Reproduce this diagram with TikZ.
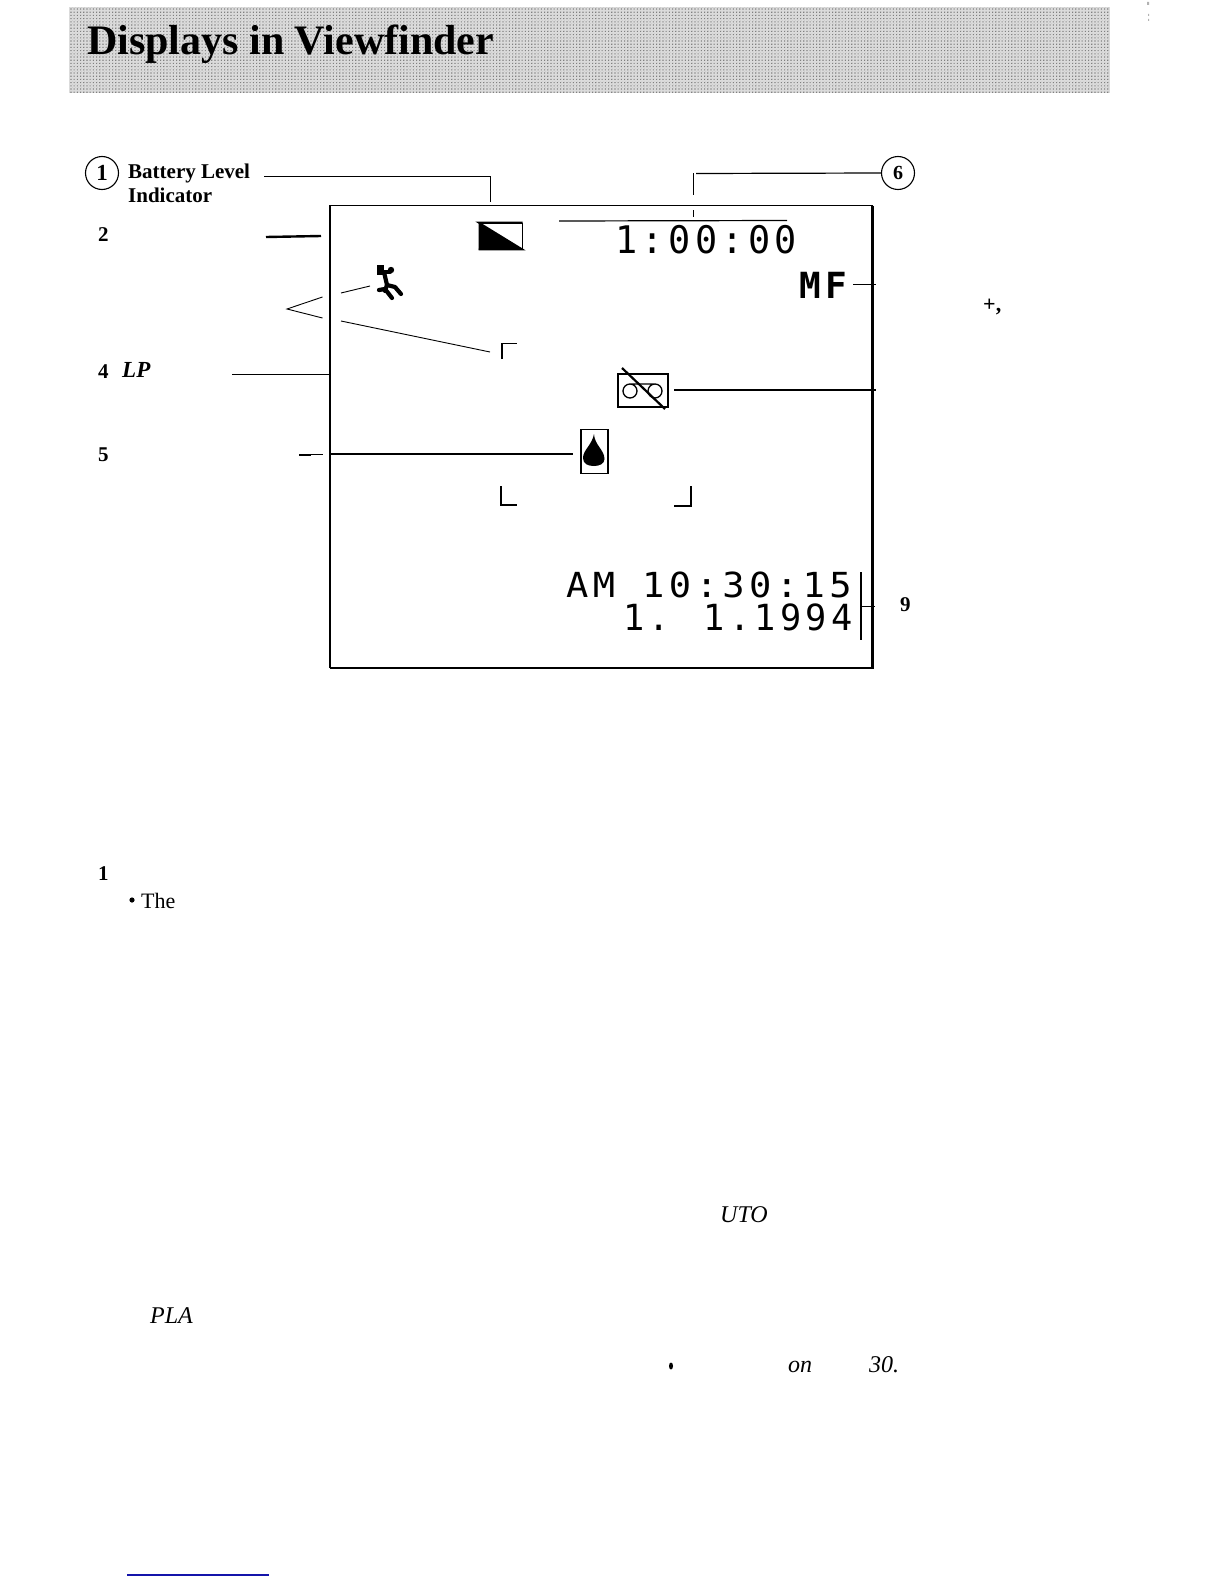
\documentclass[tikz,border=0pt]{standalone}
\usepackage{fontspec}
\usetikzlibrary{patterns}
\setmainfont{Liberation Serif}
\newfontfamily\lcd[LetterSpace=12]{DejaVu Sans Mono}
\definecolor{bannergray}{gray}{0.86}
\definecolor{linkblue}{RGB}{20,20,170}
\pgfdeclarepatternformonly{stipple}{\pgfqpoint{0pt}{0pt}}{\pgfqpoint{1.6pt}{1.6pt}}{\pgfqpoint{3.2pt}{3.2pt}}{%
  \pgfpathrectangle{\pgfqpoint{0pt}{0pt}}{\pgfqpoint{1.1pt}{1.1pt}}%
  \pgfpathrectangle{\pgfqpoint{1.6pt}{1.6pt}}{\pgfqpoint{1.1pt}{1.1pt}}%
  \pgfusepath{fill}}
\tikzset{
  x=1pt,y=-1pt,
  leader/.style={draw=black,line width=1.2pt},
  thinleader/.style={draw=black,line width=0.9pt},
  callout/.style={draw=black,line width=1.1pt,circle,minimum size=33pt,inner sep=0pt,font=\bfseries\fontsize{20}{20}\selectfont},
  lab/.style={inner sep=0pt,anchor=base west},
  blab/.style={lab,font=\bfseries\fontsize{21}{21}\selectfont},
  rlab/.style={lab,font=\fontsize{22}{22}\selectfont},
  ilab/.style={lab,font=\itshape\fontsize{24}{24}\selectfont},
  disp/.style={inner sep=0pt,anchor=base west},
  bracket/.style={draw=black,line width=1.3pt},
}
\begin{document}
\begin{tikzpicture}
\useasboundingbox (0,0) rectangle (1224,1584);
% banner
\fill[bannergray] (69,7) rectangle (1110,93);
\fill[pattern=stipple,pattern color=black!50] (69,7) rectangle (1110,93);
\node[lab,font=\bfseries\fontsize{42}{42}\selectfont] (title) at (87,55) {Displays in Viewfinder};
% specks
\fill[gray!60] (1147,2) rectangle (1149,5) (1148,14) rectangle (1149,16) (1148,19) rectangle (1149,21);
% frame
\coordinate (fTL) at (330,205.5);
\coordinate (fTR) at (872.5,205.5);
\coordinate (fBL) at (330,668);
\coordinate (fBR) at (872.5,668);
\draw[line width=1.1pt] (fBL) -- (fTL) -- (fTR);
\draw[line width=2.1pt] (fTR) -- (fBR) -- (fBL);
% callouts
\node[callout,font=\bfseries\fontsize{23}{23}\selectfont] (c1) at (102,173) {1};
\node[blab] (bat) at (128,178) {Battery Level};
\node[blab] (ind) at (128,202) {Indicator};
\node[callout] (c6) at (898,173) {6};
\node[blab] (n2) at (98,241) {2};
\node[blab] (n4) at (98,378) {4};
\node[ilab,font=\itshape\bfseries\fontsize{23}{23}\selectfont] (lp) at (122,377) {LP};
\node[blab] (n5) at (98,461) {5};
\node[blab] (n1) at (98,880) {1};
\node[rlab] (the) at (141,908) {The};
\node[rlab,font=\bfseries\fontsize{22}{22}\selectfont] (plus) at (983,311) {+,};
\node[lab,font=\bfseries\fontsize{21}{21}\selectfont] (n9) at (900,611) {9};
\node[ilab] (uto) at (720,1222) {UTO};
\node[ilab] (pla) at (150,1323) {PLA};
\node[ilab] (on) at (788,1372) {on};
\node[ilab] (thirty) at (869,1372) {30.};
\fill (132,900) circle (2.6);
\fill (671,1366) ellipse (2 and 3.5);
% display texts
\node[disp,font=\lcd\fontsize{38}{38}\selectfont] (tc) at (615,253) {\scalebox{0.97}[1]{1:00:00}};
\node[disp,font=\lcd\bfseries\fontsize{36}{36}\selectfont] (mf) at (799,298) {MF};
\node[disp,font=\lcd\fontsize{34.5}{34.5}\selectfont] (clock) at (566,597) {\scalebox{1.074}[1]{AM 10:30:15}};
\node[disp,font=\lcd\fontsize{36}{36}\selectfont] (date) at (623,630) {\scalebox{0.98}[1]{1. 1.1994}};
% battery icon
\node[draw=black,line width=1pt,minimum width=43pt,minimum height=26pt,inner sep=0pt,anchor=north west] (batt) at (478.5,222.5) {};
\fill (batt.north west) -- (batt.south east) -- (batt.south west) -- cycle;
\draw[line width=1.8pt] (batt.south west) -- (batt.south east) -- (batt.north west) -- (batt.north east);
% runner
\node[inner sep=0pt,minimum width=24pt,minimum height=34pt] (runner) at (389,282) {};
\begin{scope}[line width=4.2pt,line cap=round,line join=round]
\fill (377,265) rectangle (384,275);
\fill (391,270) circle (3.2);
\draw (384,272) -- (390,272);
\draw (384,272) -- (387,285) -- (395,287) -- (401,294);
\draw (379,290) -- (385,289) -- (392,298);
\draw (387,285) -- (385,291);
\end{scope}
% cassette
\node[draw=black,line width=1.5pt,minimum width=50pt,minimum height=33pt,inner sep=0pt,anchor=north west] (cass) at (617,373) {};
\draw[line width=1.3pt] (630,391) circle (7) (655,391) circle (7) (630,384) -- (655,384);
\coordinate (sa) at (622,368);
\coordinate (sb) at (665,409);
\draw[line width=2.2pt] (sa) -- (sb);
% drop
\node[draw=black,line width=1.5pt,minimum width=27pt,minimum height=44pt,inner sep=0pt,anchor=north west] (dropbox) at (580,428.5) {};
\fill (594,434) .. controls (594.5,445) and (604.5,450) .. (604.5,459) .. controls (604.5,464) and (599,466) .. (594,466) .. controls (588,466) and (583,464) .. (583,458) .. controls (583,450) and (592,445) .. (594,434) -- cycle;
% focus corners
\coordinate (ctl) at (502,343.5);
\draw[bracket] (502,359) -- (ctl) -- (517,343.5);
\coordinate (cbl) at (501,505);
\draw[bracket] (501,486) -- (cbl) -- (517,505);
\coordinate (cbr) at (691,506);
\draw[bracket] (691,486) -- (cbr) -- (674,506);
% leaders
\coordinate (b1) at (264,176.5); \coordinate (b2) at (490,176.5); \coordinate (b3) at (490,202);
\draw[thinleader] (b1) -- (b2) -- (b3);
\coordinate (s1) at (693,173); \coordinate (s2) at (693,195); \coordinate (s3) at (693,210); \coordinate (s4) at (693,217);
\draw[thinleader] (s1) -- (s2) (s3) -- (s4);
\draw[leader] (696,173.5) -- (c6.west);
\draw[leader] (559,221) -- (787,220.5);
\coordinate (two1) at (266,237); \coordinate (two2) at (321,236);
\draw[line width=2.4pt] (two1) -- (two2);
\coordinate (v) at (287,309);
\draw[thinleader] (322.5,297) -- (v) -- (322.5,318);
\draw[thinleader] (341,293) -- (370,286);
\draw[thinleader] (341,321) -- (490,352);
\draw[leader] (232,374.5) -- (330,374.5);
\draw[leader] (311,454.5) -- (323,454.5);
\draw[line width=2pt] (299,455) -- (311,455);
\coordinate (d1) at (331,454);
\coordinate (d2) at (573,454);
\draw[leader] (d1) -- (d2);
\draw[thinleader] (853,284) -- (876,284);
\draw[leader] (674,390) -- (876,390);
\draw[line width=1.2pt] (861,572) -- (861,640);
\draw[thinleader] (861,606) -- (875,606);
\draw[linkblue,line width=1.2pt] (127,1575) -- (269,1575);
\end{tikzpicture}
\end{document}
